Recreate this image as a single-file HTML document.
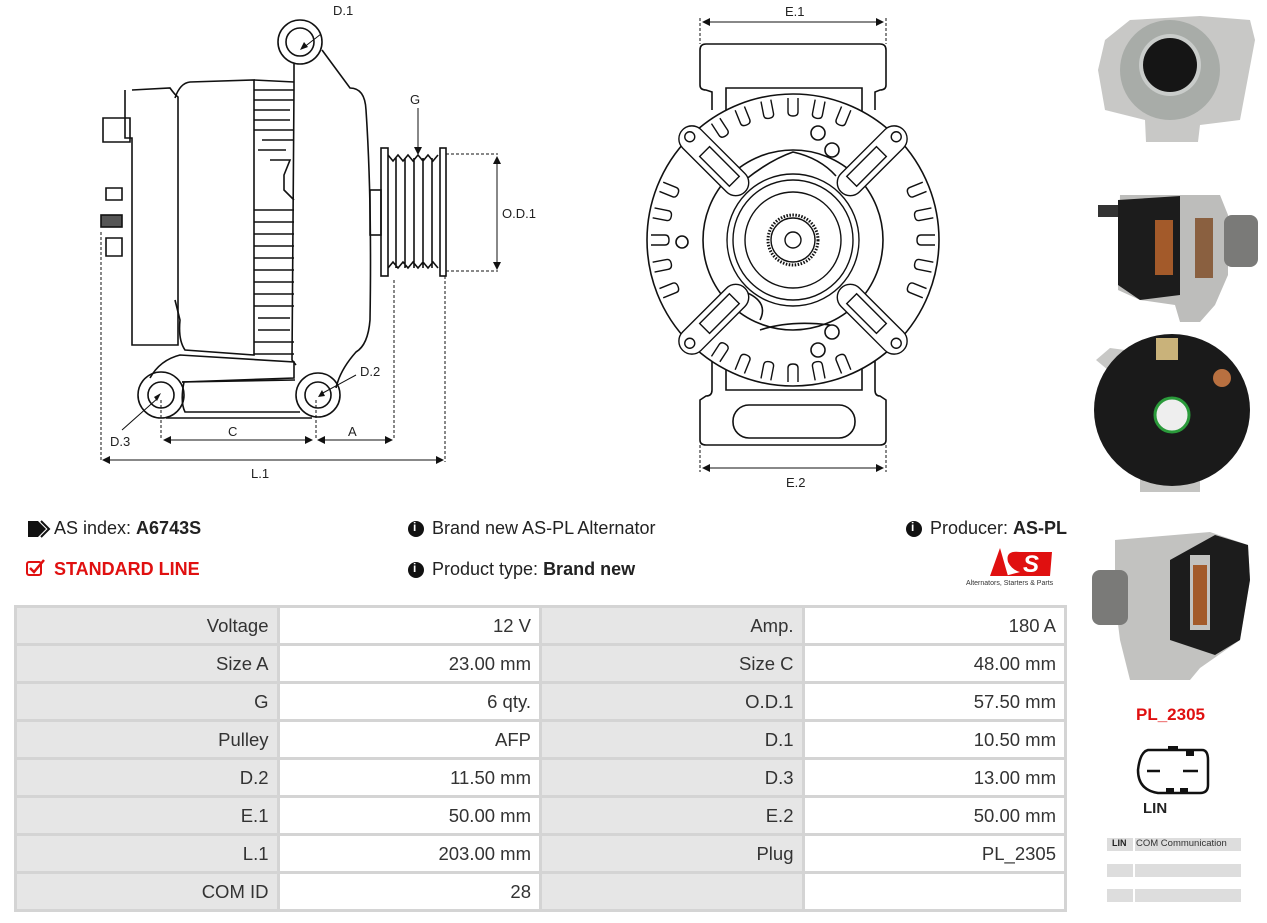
<!DOCTYPE html>
<html><head><meta charset="utf-8"><style>
body{margin:0;width:1267px;height:923px;background:#fff;font-family:"Liberation Sans",sans-serif;position:relative;overflow:hidden;color:#222}
.t{position:absolute;font-size:18px;white-space:nowrap}
table{position:absolute;left:14px;top:605px;border-collapse:collapse;font-size:18.5px;color:#333;table-layout:fixed;width:1053px}
tr{height:38px}
td{border:3px solid #d4d4d4;padding:0 8px;text-align:right;overflow:hidden}
td.g{background:#e6e6e6}
.ct{position:absolute;left:1107px;width:134px;height:13px}
</style></head><body>
<svg width="1267" height="923" style="position:absolute;left:0;top:0" fill="none" stroke="#111" stroke-width="1.6">
<g>
<circle cx="300" cy="42" r="22"/><circle cx="300" cy="42" r="14"/>
<path d="M294 64 L294 88 L292 360 L296 365"/>
<path d="M322 50 L350 88 Q365 88 366 110 Q372 200 370 320 Q368 345 356 352 Q340 370 336 388"/>
<path d="M132 90 L170 88 Q175 95 178 97 L178 345 L132 345 L132 138 L125 138 L125 90"/>
<path d="M103 118 L130 118 L130 142 L103 142Z"/>
<path d="M106 188 L122 188 L122 200 L106 200Z M106 238 L122 238 L122 256 L106 256Z"/>
<rect x="101" y="215" width="21" height="12" fill="#555"/>
<path d="M175 98 Q180 83 190 82 L254 80 L254 355 L185 350 Q178 340 180 320 L175 300"/>
<path d="M254 80 L294 82 M254 90 L294 90 M254 100 L294 100 M254 110 L290 110 M254 120 L290 120 M254 130 L294 130 M262 140 L294 140 M258 150 L286 150 M270 160 L290 160 L284 175 L284 190 L294 200"/>
<path d="M254 210 L294 210 M254 222 L294 222 M254 234 L294 234 M254 246 L294 246 M254 258 L294 258 M254 270 L294 270 M254 282 L294 282 M254 294 L294 294 M254 306 L294 306 M258 318 L290 318 M258 330 L290 330 M254 342 L294 342 M254 354 L294 354"/>
<path d="M150 378 Q160 360 180 355 L294 362 L294 378 L182 382"/>
<path d="M184 382 Q180 402 185 412 L300 412 M182 382 L295 380"/>
<circle cx="161" cy="395" r="23"/><circle cx="161" cy="395" r="13"/>
<circle cx="318" cy="395" r="22"/><circle cx="318" cy="395" r="13"/>
<path d="M166 418 L312 418"/>
<rect x="381" y="148" width="7" height="128"/><rect x="440" y="148" width="6" height="128"/>
<path d="M388 155 L393 161 L398 155 L403 161 L408 155 L413 161 L418 155 L423 161 L428 155 L433 161 L438 155 M388 268 L393 262 L398 268 L403 262 L408 268 L413 262 L418 268 L423 262 L428 268 L433 262 L438 268 M396 158 L396 268 M405 158 L405 268 M414 158 L414 268 M423 158 L423 268 M432 158 L432 268"/>
<rect x="370" y="190" width="11" height="45"/>
</g>
<g stroke-width="1">
<path d="M446 154 L498 154 M446 271 L498 271 M101 232 L101 462 M161 400 L161 440 M316 400 L316 440 M394 280 L394 440 M445 276 L445 462" stroke-dasharray="3 2"/>
<path d="M497 158 L497 268 M164 440 L312 440 M318 440 L392 440 M104 460 L442 460 M321 34 L303 48 M356 375 L321 394 M122 430 L158 398 M418 108 L418 150"/>
</g>
<g fill="#111" stroke="none">
<path d="M497 156 l-4 8 h8z M497 270 l-4 -8 h8z M163 440 l8 -4 v8z M313 440 l-8 -4 v8z M317 440 l8 -4 v8z M393 440 l-8 -4 v8z M102 460 l8 -4 v8z M444 460 l-8 -4 v8z M300 50 l4 -8 l4 5z M318 397 l4 -7 l3 6z M161 393 l-7 4 l3 4z M418 155 l-4 -8 h8z"/>
</g>
<g>
<path d="M700 50 Q700 44 706 44 L880 44 Q886 44 886 50 L886 85 Q886 90 880 90 L875 92 L875 110 M700 50 L700 85 Q700 90 706 90 L712 92 L712 110"/>
<path d="M726 112 L726 88 L862 88 L862 112"/>
<path d="M712 360 L712 390 Q712 396 706 396 L700 400 L700 440 Q700 445 706 445 L880 445 Q886 445 886 440 L886 400 L880 396 Q875 396 875 390 L875 360"/>
<path d="M726 368 L726 390 L862 390 L862 368"/>
<rect x="733" y="405" width="122" height="33" rx="16"/>
<circle cx="793" cy="240" r="146" fill="#fff"/>
<circle cx="793" cy="240" r="90"/>
<circle cx="818" cy="133" r="7"/><circle cx="832" cy="150" r="7"/><circle cx="682" cy="242" r="6"/><circle cx="832" cy="332" r="7"/><circle cx="818" cy="350" r="7"/>
<path d="M745 180 Q770 160 793 152 Q820 158 836 176 M730 220 Q760 210 740 260 M740 290 Q770 300 760 320 M850 210 Q830 230 850 270 M760 330 Q790 320 830 325"/>
</g>
<g stroke-width="1">
<path d="M700 18 L700 44 M886 18 L886 44 M700 445 L700 472 M886 445 L886 472" stroke-dasharray="3 2"/>
<path d="M704 22 L882 22 M704 468 L882 468"/>
</g>
<g fill="#111" stroke="none"><path d="M702 22 l8 -4 v8z M884 22 l-8 -4 v8z M702 468 l8 -4 v8z M884 468 l-8 -4 v8z"/></g>
<g fill="#222" stroke="none" font-family="Liberation Sans" font-size="13">
<text x="333" y="15">D.1</text><text x="410" y="104">G</text><text x="502" y="218">O.D.1</text><text x="360" y="376">D.2</text><text x="110" y="446">D.3</text><text x="228" y="436">C</text><text x="348" y="436">A</text><text x="251" y="478">L.1</text><text x="785" y="16">E.1</text><text x="786" y="487">E.2</text>
</g>
<path d="M1105 40 L1130 20 L1200 16 L1250 20 L1255 40 L1240 120 L1200 125 L1198 142 L1146 142 L1145 120 L1105 110 L1098 70Z" fill="#c8c8c6" stroke="none"/>
<circle cx="1170" cy="70" r="50" fill="#a8aca8" stroke="none"/>
<circle cx="1170" cy="65" r="31" fill="#c9ccca" stroke="none"/>
<circle cx="1170" cy="65" r="27" fill="#151515" stroke="none"/>
<path d="M1120 195 L1220 195 L1228 215 L1228 275 L1215 305 L1200 322 L1180 322 L1175 305 L1140 300 L1118 290Z" fill="#bdbdbb" stroke="none"/>
<path d="M1118 200 L1180 196 L1180 295 L1140 300 L1118 285Z" fill="#1c1c1c" stroke="none"/>
<rect x="1155" y="220" width="18" height="55" fill="#a35a2a" stroke="none"/><rect x="1195" y="218" width="18" height="60" fill="#8a6040" stroke="none"/>
<rect x="1224" y="215" width="34" height="52" rx="8" fill="#7a7a78" stroke="none"/>
<rect x="1098" y="205" width="20" height="12" fill="#333" stroke="none"/>
<rect x="1140" y="465" width="60" height="27" fill="#c4c4c2" stroke="none"/>
<path d="M1096 360 L1110 348 L1125 350 L1120 380Z" fill="#c8c8c6" stroke="none"/>
<ellipse cx="1172" cy="410" rx="78" ry="76" fill="#1a1a1a" stroke="none"/>
<circle cx="1172" cy="415" r="17" fill="#eee" stroke="#2a9a3a" stroke-width="3"/>
<rect x="1156" y="338" width="22" height="22" fill="#c9b27a" stroke="none"/>
<circle cx="1222" cy="378" r="9" fill="#b87040" stroke="none"/>
<path d="M1115 540 L1210 532 L1248 545 L1250 580 L1240 640 L1200 668 L1190 680 L1130 680 L1120 640 L1115 600Z" fill="#c2c2c0" stroke="none"/>
<path d="M1170 560 L1215 535 L1248 545 L1250 580 L1240 640 L1215 655 L1170 640Z" fill="#1c1c1c" stroke="none"/>
<rect x="1190" y="555" width="20" height="75" fill="#c2c2c0" stroke="none"/><rect x="1193" y="565" width="14" height="60" fill="#a35a2a" stroke="none"/>
<rect x="1092" y="570" width="36" height="55" rx="8" fill="#7a7a78" stroke="none"/>
<path d="M1148 750 L1202 750 Q1208 750 1208 760 L1208 785 Q1208 793 1200 793 L1158 793 Q1138 790 1138 770 Q1140 752 1148 750Z" stroke-width="2.5"/>
<path d="M1147 771 L1160 771 M1183 771 L1198 771" stroke-width="2.5"/>
<rect x="1168" y="746" width="10" height="5" fill="#111" stroke="none"/><rect x="1186" y="751" width="8" height="5" fill="#111" stroke="none"/>
<rect x="1166" y="788" width="8" height="6" fill="#111" stroke="none"/><rect x="1180" y="788" width="8" height="6" fill="#111" stroke="none"/>
<path d="M28 521 L38 521 L46 529 L38 537 L28 537Z" fill="#111" stroke="none"/><path d="M41 521 L49 529 L41 537" stroke="#111" stroke-width="2"/>
<rect x="27" y="562" width="14" height="13" rx="2" stroke="#e01010" stroke-width="2"/><path d="M30 568 L34 572 L44 560" stroke="#e01010" stroke-width="2.5"/>
<circle cx="416" cy="529" r="8" fill="#111" stroke="none"/><circle cx="416" cy="570" r="8" fill="#111" stroke="none"/><circle cx="914" cy="529" r="8" fill="#111" stroke="none"/>
<path d="M1000 548 L990 576 L1008 576Z M1020 552 Q1005 550 1008 562 Q1012 570 1020 572 L1005 576 L1050 576 L1052 552Z" fill="#e01010" stroke="none"/>
</svg>
<div class="t" style="left:413px;top:520px;color:#fff;font-size:12px;font-weight:bold">i</div>
<div class="t" style="left:413px;top:561px;color:#fff;font-size:12px;font-weight:bold">i</div>
<div class="t" style="left:911px;top:520px;color:#fff;font-size:12px;font-weight:bold">i</div>
<div class="t" style="left:54px;top:518px">AS index: <b>A6743S</b></div>
<div class="t" style="left:54px;top:559px;color:#e01010;font-weight:bold">STANDARD LINE</div>
<div class="t" style="left:432px;top:518px">Brand new AS-PL Alternator</div>
<div class="t" style="left:432px;top:559px">Product type: <b>Brand new</b></div>
<div class="t" style="left:930px;top:518px">Producer: <b>AS-PL</b></div>
<div class="t" style="left:966px;top:580px;font-size:7px;color:#333">Alternators, Starters &amp; Parts</div>
<div class="t" style="left:1023px;top:551px;font-size:24px;font-weight:bold;font-style:italic;color:#fff">S</div>
<table>
<tr><td class="g">Voltage</td><td>12 V</td><td class="g">Amp.</td><td>180 A</td></tr>
<tr><td class="g">Size A</td><td>23.00 mm</td><td class="g">Size C</td><td>48.00 mm</td></tr>
<tr><td class="g">G</td><td>6 qty.</td><td class="g">O.D.1</td><td>57.50 mm</td></tr>
<tr><td class="g">Pulley</td><td>AFP</td><td class="g">D.1</td><td>10.50 mm</td></tr>
<tr><td class="g">D.2</td><td>11.50 mm</td><td class="g">D.3</td><td>13.00 mm</td></tr>
<tr><td class="g">E.1</td><td>50.00 mm</td><td class="g">E.2</td><td>50.00 mm</td></tr>
<tr><td class="g">L.1</td><td>203.00 mm</td><td class="g">Plug</td><td>PL_2305</td></tr>
<tr><td class="g">COM ID</td><td>28</td><td class="g"></td><td></td></tr>
</table>
<div class="t" style="left:1136px;top:705px;color:#e01010;font-weight:bold;font-size:17px">PL_2305</div>
<div class="t" style="left:1143px;top:800px;font-weight:bold;font-size:15px">LIN</div>
<div class="ct" style="top:838px;background:#ddd"></div>
<div class="t" style="left:1112px;top:838px;font-size:9px;font-weight:bold">LIN</div>
<div class="t" style="left:1136px;top:838px;font-size:9.5px;color:#333">COM Communication</div>
<div class="ct" style="top:864px;background:#ddd"></div>
<div class="ct" style="top:889px;background:#ddd"></div>
<div style="position:absolute;left:1133px;top:836px;width:2px;height:80px;background:#fff"></div>
<svg width="1267" height="923" style="position:absolute;left:0;top:0" fill="none" stroke="#111" stroke-width="1.4">
<defs>
<path id="tooth" d="M-5 -142 L-5 -128 Q-5 -124 0 -124 Q5 -124 5 -128 L5 -142"/>
<g id="arm"><rect x="-13" y="-156" width="26" height="88" rx="13" fill="#fff"/><rect x="-7" y="-125" width="14" height="42"/><circle cx="0" cy="-146" r="5"/></g>
</defs>
<g transform="translate(793 240)">
<use href="#tooth" transform="rotate(0)"/><use href="#tooth" transform="rotate(11)"/><use href="#tooth" transform="rotate(22)"/><use href="#tooth" transform="rotate(-11)"/><use href="#tooth" transform="rotate(-22)"/><use href="#tooth" transform="rotate(-33)"/>
<use href="#tooth" transform="rotate(68)"/><use href="#tooth" transform="rotate(79)"/><use href="#tooth" transform="rotate(90)"/><use href="#tooth" transform="rotate(101)"/><use href="#tooth" transform="rotate(112)"/>
<use href="#tooth" transform="rotate(158)"/><use href="#tooth" transform="rotate(169)"/><use href="#tooth" transform="rotate(180)"/><use href="#tooth" transform="rotate(191)"/><use href="#tooth" transform="rotate(202)"/><use href="#tooth" transform="rotate(213)"/>
<use href="#tooth" transform="rotate(248)"/><use href="#tooth" transform="rotate(259)"/><use href="#tooth" transform="rotate(270)"/><use href="#tooth" transform="rotate(281)"/><use href="#tooth" transform="rotate(292)"/>
<use href="#arm" transform="rotate(-45)"/><use href="#arm" transform="rotate(45)"/><use href="#arm" transform="rotate(135)"/><use href="#arm" transform="rotate(225)"/>
<circle cx="0" cy="0" r="66" fill="#fff"/><circle cx="0" cy="0" r="60"/><circle cx="0" cy="0" r="48"/><circle cx="0" cy="0" r="22"/><circle cx="0" cy="0" r="8"/>
<circle cx="0" cy="0" r="25" stroke-dasharray="1.5 1.5" stroke-width="3"/>
</g>
</svg>
</body></html>
